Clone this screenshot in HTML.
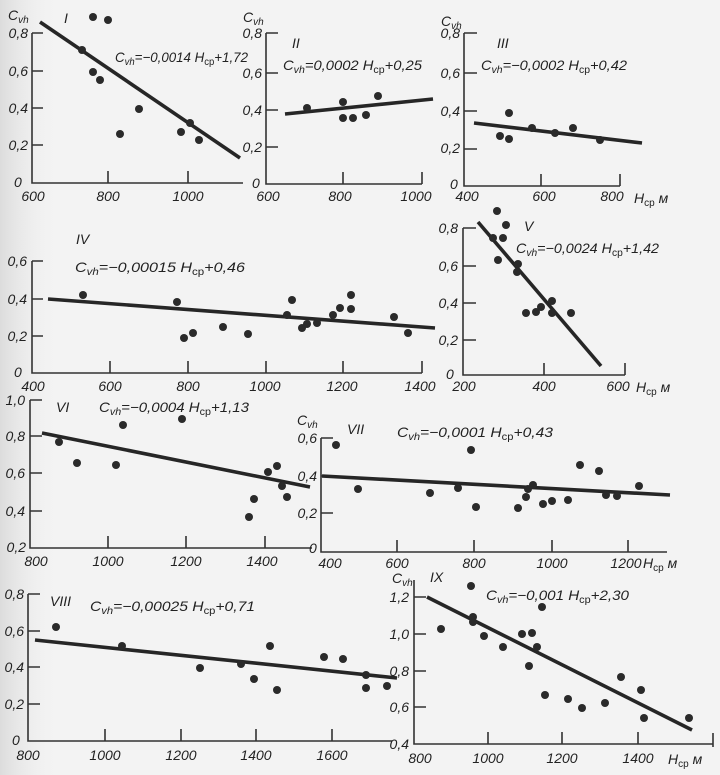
<!DOCTYPE html>
<html><head><meta charset="utf-8"><style>
html,body{margin:0;padding:0;background:#f3f3f3;}
svg{display:block;}
text{font-family:"Liberation Sans","DejaVu Sans",sans-serif;font-style:italic;fill:#222;font-size:14px;}
.ax{stroke:#333;stroke-width:1.6;fill:none;}
.fit{stroke:#262626;stroke-width:3.6;stroke-linecap:butt;}
circle{fill:#2a2a2a;}
.s{font-size:10px;}
.sn{font-size:10px;font-style:normal;}
.r{text-anchor:end;}
.m{text-anchor:middle;}
</style></head><body>
<svg width="720" height="775" viewBox="0 0 720 775" xmlns="http://www.w3.org/2000/svg">
<defs><linearGradient id="lg" x1="0" x2="1" y1="0" y2="0"><stop offset="0" stop-color="#dcdcdc"/><stop offset="1" stop-color="#f3f3f3" stop-opacity="0"/></linearGradient></defs>
<rect width="720" height="775" fill="#f3f3f3"/>
<rect width="60" height="775" fill="url(#lg)"/>

<!-- Chart I -->
<path class="ax" d="M32 33V183H243M32 33H43M32 71H43M32 108H43M32 145H43M108 183V171M188 183V171"/>
<text x="8" y="20">C<tspan class="s" dy="3">vh</tspan></text>
<text class="r" x="28" y="38">0,8</text><text class="r" x="28" y="76">0,6</text><text class="r" x="28" y="113">0,4</text><text class="r" x="28" y="150">0,2</text><text x="14" y="187">0</text>
<text class="m" x="33" y="201">600</text><text class="m" x="108" y="201">800</text><text class="m" x="188" y="201">1000</text>
<text x="64" y="23">I</text>
<text x="115" y="62" textLength="133" lengthAdjust="spacingAndGlyphs">C<tspan class="s" dy="3">vh</tspan><tspan dy="-3">=−0,0014 H</tspan><tspan class="sn" dy="3">ср</tspan><tspan dy="-3">+1,72</tspan></text>
<line class="fit" x1="40" y1="22" x2="240" y2="158"/>
<circle cx="93" cy="17" r="4"/><circle cx="108" cy="20" r="4"/><circle cx="82" cy="50" r="4"/><circle cx="93" cy="72" r="4"/><circle cx="100" cy="80" r="4"/><circle cx="120" cy="134" r="4"/><circle cx="139" cy="109" r="4"/><circle cx="181" cy="132" r="4"/><circle cx="190" cy="123" r="4"/><circle cx="199" cy="140" r="4"/>

<!-- Chart II -->
<path class="ax" d="M266 33V184H422M266 33H278M266 73H278M266 110H278M266 147H278M343 184V172M422 184V172"/>
<text x="243" y="22">C<tspan class="s" dy="3">vh</tspan></text>
<text class="r" x="262" y="38">0,8</text><text class="r" x="262" y="78">0,6</text><text class="r" x="262" y="115">0,4</text><text class="r" x="262" y="152">0,2</text><text x="252" y="188">0</text>
<text class="m" x="268" y="201">600</text><text class="m" x="340" y="201">800</text><text class="m" x="416" y="201">1000</text>
<text x="292" y="48">II</text>
<text x="283" y="70" textLength="139" lengthAdjust="spacingAndGlyphs">C<tspan class="s" dy="3">vh</tspan><tspan dy="-3">=0,0002 H</tspan><tspan class="sn" dy="3">ср</tspan><tspan dy="-3">+0,25</tspan></text>
<line class="fit" x1="285" y1="114" x2="433" y2="99"/>
<circle cx="307" cy="108" r="4"/><circle cx="343" cy="102" r="4"/><circle cx="343" cy="118" r="4"/><circle cx="353" cy="118" r="4"/><circle cx="366" cy="115" r="4"/><circle cx="378" cy="96" r="4"/>

<!-- Chart III -->
<path class="ax" d="M464 33V186H620M464 33H477M464 73H477M464 111H477M464 149H477M541 186V174M620 186V174"/>
<text x="441" y="26">C<tspan class="s" dy="3">vh</tspan></text>
<text class="r" x="460" y="38">0,8</text><text class="r" x="460" y="78">0,6</text><text class="r" x="460" y="116">0,4</text><text class="r" x="460" y="153">0,2</text><text x="450" y="189">0</text>
<text class="m" x="467" y="201">400</text><text class="m" x="544" y="201">600</text><text class="m" x="612" y="201">800</text>
<text x="634" y="203">H<tspan class="sn" dy="3">ср</tspan><tspan dy="-3"> м</tspan></text>
<text x="497" y="48">III</text>
<text x="481" y="70" textLength="146" lengthAdjust="spacingAndGlyphs">C<tspan class="s" dy="3">vh</tspan><tspan dy="-3">=−0,0002 H</tspan><tspan class="sn" dy="3">ср</tspan><tspan dy="-3">+0,42</tspan></text>
<line class="fit" x1="474" y1="123" x2="642" y2="143"/>
<circle cx="500" cy="136" r="4"/><circle cx="509" cy="113" r="4"/><circle cx="509" cy="139" r="4"/><circle cx="532" cy="128" r="4"/><circle cx="555" cy="133" r="4"/><circle cx="573" cy="128" r="4"/><circle cx="600" cy="140" r="4"/>

<!-- Chart IV -->
<path class="ax" d="M32 261V373H422M32 261H43M32 299H43M32 336H43M110 373V361M188 373V361M266 373V361M343 373V361M422 373V361"/>
<text class="r" x="27" y="266">0,6</text><text class="r" x="27" y="304">0,4</text><text class="r" x="27" y="341">0,2</text><text x="14" y="377">0</text>
<text class="m" x="33" y="391">400</text><text class="m" x="110" y="391">600</text><text class="m" x="188" y="391">800</text><text class="m" x="265" y="391">1000</text><text class="m" x="342" y="391">1200</text><text class="m" x="420" y="391">1400</text>
<text x="76" y="244">IV</text>
<text x="75" y="272" textLength="170" lengthAdjust="spacingAndGlyphs">C<tspan class="s" dy="3">vh</tspan><tspan dy="-3">=−0,00015 H</tspan><tspan class="sn" dy="3">ср</tspan><tspan dy="-3">+0,46</tspan></text>
<line class="fit" x1="48" y1="299" x2="435" y2="328"/>
<circle cx="83" cy="295" r="4"/><circle cx="177" cy="302" r="4"/><circle cx="184" cy="338" r="4"/><circle cx="193" cy="333" r="4"/><circle cx="223" cy="327" r="4"/><circle cx="248" cy="334" r="4"/><circle cx="287" cy="315" r="4"/><circle cx="292" cy="300" r="4"/><circle cx="302" cy="328" r="4"/><circle cx="307" cy="324" r="4"/><circle cx="317" cy="323" r="4"/><circle cx="333" cy="315" r="4"/><circle cx="340" cy="308" r="4"/><circle cx="351" cy="295" r="4"/><circle cx="351" cy="309" r="4"/><circle cx="394" cy="317" r="4"/><circle cx="408" cy="333" r="4"/>

<!-- Chart V -->
<path class="ax" d="M463 228V375H625M463 228H476M463 266H476M463 303H476M463 340H476M544 375V363M625 375V363"/>
<text class="r" x="458" y="233">0,8</text><text class="r" x="458" y="271">0,6</text><text class="r" x="458" y="308">0,4</text><text class="r" x="458" y="345">0,2</text><text x="446" y="379">0</text>
<text class="m" x="464" y="391">200</text><text class="m" x="544" y="391">400</text><text class="m" x="618" y="391">600</text>
<text x="636" y="392">H<tspan class="sn" dy="3">ср</tspan><tspan dy="-3"> м</tspan></text>
<text x="524" y="231">V</text>
<text x="516" y="253" textLength="143" lengthAdjust="spacingAndGlyphs">C<tspan class="s" dy="3">vh</tspan><tspan dy="-3">=−0,0024 H</tspan><tspan class="sn" dy="3">ср</tspan><tspan dy="-3">+1,42</tspan></text>
<line class="fit" x1="478" y1="222" x2="601" y2="366"/>
<circle cx="497" cy="211" r="4"/><circle cx="506" cy="225" r="4"/><circle cx="493" cy="238" r="4"/><circle cx="503" cy="238" r="4"/><circle cx="498" cy="260" r="4"/><circle cx="518" cy="264" r="4"/><circle cx="517" cy="272" r="4"/><circle cx="526" cy="313" r="4"/><circle cx="536" cy="312" r="4"/><circle cx="541" cy="307" r="4"/><circle cx="552" cy="301" r="4"/><circle cx="552" cy="313" r="4"/><circle cx="571" cy="313" r="4"/>

<!-- Chart VI -->
<path class="ax" d="M30 400V548H312M30 400H42M30 436H42M30 473H42M30 511H42M108 548V536M186 548V536M265 548V536"/>
<text class="r" x="25" y="405">1,0</text><text class="r" x="25" y="441">0,8</text><text class="r" x="25" y="478">0,6</text><text class="r" x="25" y="516">0,4</text><text class="r" x="26" y="552">0,2</text>
<text class="m" x="36" y="566">800</text><text class="m" x="108" y="566">1000</text><text class="m" x="186" y="566">1200</text><text class="m" x="262" y="566">1400</text>
<text x="56" y="412">VI</text>
<text x="99" y="412" textLength="150" lengthAdjust="spacingAndGlyphs">C<tspan class="s" dy="3">vh</tspan><tspan dy="-3">=−0,0004 H</tspan><tspan class="sn" dy="3">ср</tspan><tspan dy="-3">+1,13</tspan></text>
<line class="fit" x1="42" y1="433" x2="310" y2="487"/>
<circle cx="59" cy="442" r="4"/><circle cx="77" cy="463" r="4"/><circle cx="116" cy="465" r="4"/><circle cx="123" cy="425" r="4"/><circle cx="182" cy="419" r="4"/><circle cx="249" cy="517" r="4"/><circle cx="254" cy="499" r="4"/><circle cx="268" cy="472" r="4"/><circle cx="277" cy="466" r="4"/><circle cx="282" cy="486" r="4"/><circle cx="287" cy="497" r="4"/>

<!-- Chart VII -->
<path class="ax" d="M321 438V552H667M321 438H333M321 476H333M321 513H333M397 552V540M474 552V540M552 552V540M628 552V540"/>
<text x="297" y="425">C<tspan class="s" dy="3">vh</tspan></text>
<text class="r" x="317" y="443">0,6</text><text class="r" x="317" y="481">0,4</text><text class="r" x="317" y="518">0,2</text><text x="309" y="553">0</text>
<text class="m" x="330" y="568">400</text><text class="m" x="397" y="568">600</text><text class="m" x="474" y="568">800</text><text class="m" x="552" y="568">1000</text><text class="m" x="626" y="568">1200</text>
<text x="643" y="568">H<tspan class="sn" dy="3">ср</tspan><tspan dy="-3"> м</tspan></text>
<text x="347" y="434">VII</text>
<text x="397" y="437" textLength="156" lengthAdjust="spacingAndGlyphs">C<tspan class="s" dy="3">vh</tspan><tspan dy="-3">=−0,0001 H</tspan><tspan class="sn" dy="3">ср</tspan><tspan dy="-3">+0,43</tspan></text>
<line class="fit" x1="322" y1="476" x2="670" y2="495"/>
<circle cx="336" cy="445" r="4"/><circle cx="358" cy="489" r="4"/><circle cx="430" cy="493" r="4"/><circle cx="458" cy="488" r="4"/><circle cx="471" cy="450" r="4"/><circle cx="476" cy="507" r="4"/><circle cx="518" cy="508" r="4"/><circle cx="526" cy="497" r="4"/><circle cx="528" cy="489" r="4"/><circle cx="533" cy="485" r="4"/><circle cx="543" cy="504" r="4"/><circle cx="552" cy="501" r="4"/><circle cx="568" cy="500" r="4"/><circle cx="580" cy="465" r="4"/><circle cx="599" cy="471" r="4"/><circle cx="606" cy="495" r="4"/><circle cx="617" cy="496" r="4"/><circle cx="639" cy="486" r="4"/>

<!-- Chart VIII -->
<path class="ax" d="M28 594V741H392M28 594H40M28 631H40M28 667H40M28 704H40M105 741V729M181 741V729M256 741V729M332 741V729"/>
<text class="r" x="24" y="599">0,8</text><text class="r" x="24" y="636">0,6</text><text class="r" x="24" y="672">0,4</text><text class="r" x="24" y="709">0,2</text><text x="12" y="745">0</text>
<text class="m" x="28" y="760">800</text><text class="m" x="105" y="760">1000</text><text class="m" x="181" y="760">1200</text><text class="m" x="256" y="760">1400</text><text class="m" x="332" y="760">1600</text>
<text x="50" y="606">VIII</text>
<text x="90" y="611" textLength="165" lengthAdjust="spacingAndGlyphs">C<tspan class="s" dy="3">vh</tspan><tspan dy="-3">=−0,00025 H</tspan><tspan class="sn" dy="3">ср</tspan><tspan dy="-3">+0,71</tspan></text>
<line class="fit" x1="35" y1="640" x2="397" y2="678"/>
<circle cx="56" cy="627" r="4"/><circle cx="122" cy="646" r="4"/><circle cx="200" cy="668" r="4"/><circle cx="241" cy="664" r="4"/><circle cx="254" cy="679" r="4"/><circle cx="270" cy="646" r="4"/><circle cx="277" cy="690" r="4"/><circle cx="324" cy="657" r="4"/><circle cx="343" cy="659" r="4"/><circle cx="366" cy="675" r="4"/><circle cx="366" cy="688" r="4"/><circle cx="387" cy="686" r="4"/>

<!-- Chart IX -->
<path class="ax" d="M414 580V744H713M414 597H426M414 634H426M414 671H426M414 707H426M488 744V732M562 744V732M638 744V732M713 747V733"/>
<text x="392" y="583">C<tspan class="s" dy="3">vh</tspan></text>
<text class="r" x="409" y="602">1,2</text><text class="r" x="409" y="639">1,0</text><text class="r" x="409" y="676">0,8</text><text class="r" x="409" y="712">0,6</text><text class="r" x="409" y="749">0,4</text>
<text class="m" x="420" y="763">800</text><text class="m" x="488" y="763">1000</text><text class="m" x="562" y="763">1200</text><text class="m" x="638" y="763">1400</text>
<text x="668" y="764">H<tspan class="sn" dy="3">ср</tspan><tspan dy="-3"> м</tspan></text>
<text x="430" y="582">IX</text>
<text x="486" y="600" textLength="143" lengthAdjust="spacingAndGlyphs">C<tspan class="s" dy="3">vh</tspan><tspan dy="-3">=−0,001 H</tspan><tspan class="sn" dy="3">ср</tspan><tspan dy="-3">+2,30</tspan></text>
<line class="fit" x1="427" y1="597" x2="692" y2="730"/>
<circle cx="471" cy="586" r="4"/><circle cx="441" cy="629" r="4"/><circle cx="473" cy="617" r="4"/><circle cx="473" cy="622" r="4"/><circle cx="484" cy="636" r="4"/><circle cx="503" cy="647" r="4"/><circle cx="522" cy="634" r="4"/><circle cx="532" cy="633" r="4"/><circle cx="537" cy="647" r="4"/><circle cx="529" cy="666" r="4"/><circle cx="542" cy="607" r="4"/><circle cx="545" cy="695" r="4"/><circle cx="568" cy="699" r="4"/><circle cx="582" cy="708" r="4"/><circle cx="605" cy="703" r="4"/><circle cx="621" cy="677" r="4"/><circle cx="641" cy="690" r="4"/><circle cx="644" cy="718" r="4"/><circle cx="689" cy="718" r="4"/>
</svg>
</body></html>
